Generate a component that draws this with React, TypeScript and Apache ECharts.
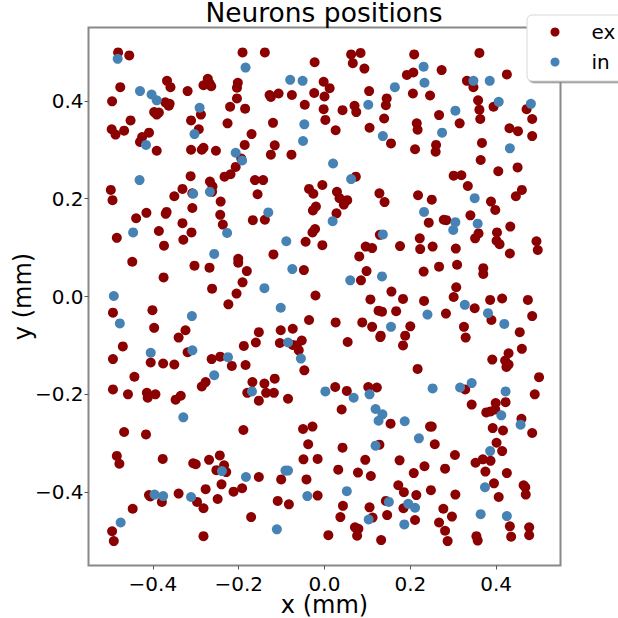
import React, { useEffect, useRef } from "react";
import * as echarts from "echarts";

const titleText = "Neurons positions";
const xLabel = "x (mm)";
const yLabel = "y (mm)";
const tickValues = [-0.4, -0.2, 0, 0.2, 0.4];
const exPositions: number[][] = [
[-.481,.499],[-.455,.493],[-.367,.441],[-.359,.428],[-.476,.428],[-.495,.399],[-.319,.420],[-.272,.445],[-.282,.432],[-.268,.436],[-.264,.430],[-.202,.437],[-.204,.427],[-.204,.405],[-.220,.388],[-.185,.384],[-.191,.499],[-.139,.499],[-.023,.479],[-.128,.412],[-.125,.408],[-.107,.415],[-.076,.412],[-.024,.416],[-.046,.392],[-.371,.397],[-.361,.394],[-.363,.390],[-.397,.377],[-.386,.376],[-.391,.372],[-.288,.372],[-.311,.360],[-.452,.360],[-.496,.342],[-.487,.331],[-.467,.339],[-.409,.335],[-.425,.326],[-.430,.316],[-.293,.342],[-.226,.354],[-.120,.355],[-.170,.332],[-.186,.310],[-.116,.309],[-.391,.298],[-.311,.300],[-.282,.304],[-.286,.300],[-.253,.298],[-.125,.290],[-.077,.290],[-.194,.282],
[-.207,.265],[-.219,.250],[-.233,.245],[-.312,.246],[-.267,.235],[-.261,.225],[-.262,.214],[-.162,.238],[-.143,.238],[-.036,.220],[-.026,.210],[-.498,.218],[-.494,.197],[-.331,.220],[-.350,.205],[-.308,.211],[-.156,.209],[-.242,.194],[-.308,.181],[-.020,.184],[-.027,.176],[-.368,.173],[-.370,.169],[-.415,.171],[-.439,.160],[-.243,.167],[-.331,.150],[-.237,.147],[-.167,.156],[-.139,.157],[-.022,.138],[-.028,.131],[-.386,.134],[-.310,.131],[-.484,.120],[-.329,.116],[-.374,.104],[-.044,.112],[-.119,.086],[-.201,.077],[-.201,.069],[-.448,.071],[-.303,.063],[-.268,.059],[-.181,.052],[-.048,.054],[-.375,.039],[-.191,.029],[-.262,.016],[-.205,.006],[-.021,.002],
[-.493,-.033],[-.401,-.028],[-.224,-.016],[-.397,-.064],[-.324,-.069],[-.340,-.084],[-.036,-.048],[-.153,-.073],[-.102,-.069],[-.074,-.066],[-.053,-.090],[-.104,-.095],[-.160,-.094],[-.188,-.101],[-.074,-.099],[-.065,-.100],[-.060,-.110],[-.470,-.102],[-.319,-.114],[-.493,-.128],[-.263,-.128],[-.243,-.123],[-.405,-.135],[-.376,-.137],[-.350,-.139],[-.184,-.140],[-.216,-.142],[-.047,-.151],[-.443,-.164],[-.116,-.168],[-.168,-.175],[-.140,-.178],[-.277,-.175],[-.286,-.184],[-.493,-.190],[-.458,-.200],[-.414,-.197],[-.412,-.207],[-.394,-.200],[-.335,-.203],[-.347,-.211],[-.180,-.197],[-.136,-.197],[-.118,-.197],[-.085,-.209],[-.153,-.213],[-.467,-.277],[-.416,-.282],[-.189,-.273],[-.050,-.271],[-.028,-.266],
[.062,.495],[.084,.498],[.066,.477],[.093,.466],[.209,.495],[.361,.498],[.192,.453],[.207,.458],[.273,.463],[.332,.441],[.347,.428],[.425,.454],[-.002,.439],[.012,.426],[0,.409],[.104,.420],[.145,.405],[.143,.391],[.206,.415],[.246,.411],[.358,.401],[.361,.382],[.394,.388],[-.002,.383],[.042,.381],[.070,.390],[.074,.377],[.471,.383],[.484,.363],[.002,.361],[.139,.364],[.267,.371],[.363,.363],[.215,.354],[.217,.341],[.315,.354],[.431,.344],[.451,.338],[.026,.340],[.105,.345],[.484,.328],[.155,.313],[.260,.310],[.259,.296],[.367,.314],[.211,.301],[.364,.279],
[.073,.245],[.301,.247],[.319,.248],[.405,.256],[.450,.264],[.334,.226],[.460,.218],[.446,.205],[-.005,.228],[.029,.214],[.035,.201],[.053,.197],[.045,.188],[.128,.211],[.140,.193],[.218,.207],[.250,.198],[.388,.194],[.398,.177],[.028,.170],[.340,.166],[.243,.151],[.278,.157],[.284,.156],[.433,.143],[.129,.126],[.402,.131],[.359,.129],[.351,.119],[.222,.119],[.401,.114],[.408,.107],[.494,.113],[.497,.095],[-.005,.105],[.096,.102],[.111,.099],[.176,.103],[.223,.097],[.252,.102],[.306,.098],[.432,.088],[.081,.082],[.098,.052],[.231,.051],[.267,.061],[.309,.065],[.370,.058],[.370,.046],[.085,.033],[.307,.019],[.156,.010],
[.107,-.006],[.183,-.005],[.232,-.009],[.301,-.001],[.386,-.007],[.414,-.004],[.474,-.007],[.350,-.024],[.126,-.029],[.134,-.031],[.167,-.030],[.283,-.035],[.484,-.040],[.389,-.048],[.026,-.053],[.088,-.053],[.111,-.062],[.200,-.061],[.325,-.062],[.455,-.073],[.131,-.080],[.130,-.083],[.188,-.080],[.329,-.084],[.054,-.093],[.183,-.100],[.460,-.107],[.429,-.116],[.391,-.129],[.421,-.131],[.429,-.139],[.424,-.144],[.217,-.148],[.500,-.165],[.025,-.185],[.102,-.185],[.122,-.186],[.052,-.193],[.328,-.190],[.490,-.200],[.399,-.218],[.422,-.216],[.343,-.221],[.040,-.231],[.377,-.237],[.387,-.235],[.398,-.231],[.459,-.250],[.154,-.260],[.246,-.266],[.250,-.266],[.392,-.269],[.416,-.274],[.484,-.279],
[-.038,-.302],[-.484,-.326],[-.478,-.342],[-.377,-.332],[-.306,-.341],[-.300,-.343],[-.269,-.334],[-.244,-.325],[-.234,-.345],[-.252,-.355],[-.229,-.359],[-.049,-.333],[-.016,-.332],[-.153,-.369],[-.101,-.374],[-.042,-.374],[-.240,-.384],[-.277,-.394],[-.212,-.399],[-.192,-.392],[-.409,-.406],[-.406,-.409],[-.379,-.420],[-.340,-.403],[-.297,-.420],[-.249,-.414],[-.282,-.433],[-.016,-.407],[-.109,-.418],[-.083,-.425],[-.447,-.434],[-.171,-.451],[-.495,-.480],[-.491,-.500],[-.282,-.490],
[.128,-.303],[.042,-.309],[.257,-.302],[.401,-.299],[.414,-.316],[.304,-.324],[.095,-.334],[.175,-.335],[.369,-.333],[.387,-.336],[.352,-.340],[.032,-.354],[.078,-.360],[.108,-.367],[.208,-.361],[.233,-.347],[.281,-.352],[.375,-.358],[.425,-.361],[.395,-.382],[.464,-.386],[.468,-.390],[.469,-.405],[.172,-.386],[.185,-.400],[.214,-.406],[.248,-.396],[.305,-.405],[.406,-.410],[.143,-.418],[.043,-.428],[.105,-.431],[.184,-.433],[.277,-.434],[.112,-.452],[.146,-.447],[.037,-.451],[.297,-.450],[.211,-.457],[.267,-.462],[.281,-.479],[.071,-.472],[.079,-.475],[.076,-.489],[.009,-.488],[.132,-.498],[.287,-.500],[.354,-.490],[.357,-.499],[.432,-.470],[.477,-.472],[.435,-.491],[.477,-.488],
];
const inPositions: number[][] = [
[-.482,.486],[-.430,.420],[-.403,.413],[-.391,.401],[-.291,.386],[-.303,.332],[-.416,.310],[-.184,.468],[-.080,.443],[-.051,.441],[-.047,.352],[-.050,.318],[-.207,.294],[-.192,.278],
[-.431,.238],[-.306,.210],[-.267,.214],[-.131,.172],[-.446,.131],[-.227,.130],[-.089,.113],[-.257,.087],[-.075,.056],[-.140,.017],[-.491,.001],
[-.102,-.023],[-.309,-.040],[-.477,-.055],[-.085,-.094],[-.405,-.115],[-.308,-.110],[-.225,-.124],[-.055,-.127],[-.257,-.161],[-.169,-.194],[-.329,-.247],
[.231,.470],[.164,.428],[.233,.437],[.347,.441],[.385,.441],[.406,.398],[.481,.394],[.102,.392],[.305,.380],[.136,.328],[.274,.335],[.432,.303],
[.020,.272],[.062,.240],[.350,.201],[.232,.173],[.305,.152],[.357,.149],[.300,.136],[.019,.154],[.136,.127],[.060,.033],[.134,.041],
[.327,-.017],[.240,-.037],[.381,-.034],[.419,-.056],[.155,-.062],[.002,-.194],[.068,-.207],[.105,-.200],[.252,-.188],[.316,-.186],[.343,-.177],[.422,-.194],[.119,-.230],[.135,-.241],[.126,-.254],[.187,-.255],[.412,-.243],[.457,-.262],
[-.239,-.357],[-.183,-.369],[-.091,-.356],[-.085,-.356],[-.396,-.405],[-.376,-.408],[-.311,-.410],[-.040,-.408],[-.475,-.462],[-.111,-.476],
[.119,-.305],[.220,-.290],[.386,-.316],[.052,-.398],[.374,-.390],[.150,-.420],[.195,-.424],[.211,-.432],[.103,-.456],[.186,-.466],[.364,-.445],[.425,-.449],
];
const exColor = "#8b0000";
const inColor = "#4682b4";
const FONT = "DejaVu Sans";

export default function App() {
  const ref = useRef<HTMLDivElement>(null);
  useEffect(() => {
    const chart = echarts.init(ref.current!, null, { renderer: "svg" });
    const axisCommon = {
      type: "value" as const,
      min: -0.55,
      max: 0.55,
      nameLocation: "middle" as const,
      nameMoveOverlap: false,
      nameTextStyle: { fontFamily: FONT, fontSize: 24, color: "#000", lineHeight: 24 },
      axisLine: { show: false, onZero: false },
      axisTick: { show: true, customValues: tickValues, length: 4, lineStyle: { color: "#555", width: 1 } },
      splitLine: { show: false },
    };
    const labelCommon = {
      customValues: tickValues,
      fontFamily: FONT,
      fontSize: 20,
      color: "#000",
      formatter: (v: number) => v.toFixed(1).replace("-", "\u2212"),
    };
    chart.setOption({
      animation: false,
      backgroundColor: "#fff",
      title: {
        text: titleText,
        left: 324,
        top: 0,
        padding: 0,
        textAlign: "center",
        textStyle: { fontFamily: FONT, fontSize: 26.5, fontWeight: "normal", color: "#000", lineHeight: 25 },
      },
      grid: { left: 88.5, top: 27.5, width: 472, height: 538, show: true, borderColor: "#888", borderWidth: 2, backgroundColor: "#fff", outerBoundsMode: "none" },
      xAxis: { ...axisCommon, name: xLabel, nameGap: 27, axisLabel: { ...labelCommon, margin: 10, lineHeight: 16 } },
      yAxis: { ...axisCommon, name: yLabel, nameGap: 54, axisLabel: { ...labelCommon, margin: 5 } },
      legend: {
        left: 550.5,
        top: 21,
        orient: "vertical",
        padding: 0,
        itemWidth: 9,
        itemHeight: 9,
        itemGap: 8,
        z: 12,
        icon: "circle",
        textStyle: { fontFamily: FONT, fontSize: 20, color: "#000", lineHeight: 22, padding: [0, 0, 0, 27] },
        data: ["ex", "in"],
      },
      graphic: [
        {
          type: "rect",
          z: 11,
          shape: { x: 527, y: 15, width: 110, height: 66, r: 5 },
          style: { fill: "#fff", stroke: "#d8d8d8", lineWidth: 1, shadowBlur: 0, shadowColor: "#888", shadowOffsetX: 1.5, shadowOffsetY: 1.5 },
        },
      ],
      series: [
        { name: "ex", type: "scatter", symbolSize: 10, data: exPositions, itemStyle: { color: exColor, opacity: 1 } },
        { name: "in", type: "scatter", symbolSize: 10, data: inPositions, itemStyle: { color: inColor, opacity: 1 } },
      ],
    });
    return () => chart.dispose();
  }, []);
  return <div ref={ref} style={{ position: "absolute", left: 0, top: 0, width: 618, height: 618, overflow: "hidden" }} />;
}
